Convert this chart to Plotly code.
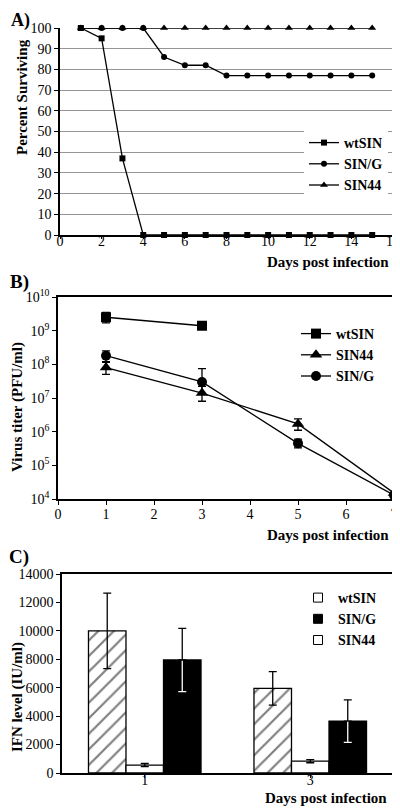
import plotly.graph_objects as go

# The page body adds an 8px margin, so the figure is 8px smaller and all
# layout positions below are given in window pixels and shifted by that margin.
OFF = 8
W, H = 400 - OFF, 808 - OFF
def px(x): return (x - OFF) / W
def py(y): return 1 - (y - OFF) / H

FONT = "Liberation Serif"

# ---------- Panel A data ----------
daysA = list(range(1, 16))
wtSIN_A = [100, 95, 37, 0, 0, 0, 0, 0, 0, 0, 0, 0, 0, 0, 0]
SING_A = [100, 100, 100, 100, 86, 82, 82, 77, 77, 77, 77, 77, 77, 77, 77]
SIN44_A = [100] * 15

# ---------- Panel B data ----------
daysB_wt = [1, 3]
wtSIN_B = [2.5e9, 1.4e9]
wtSIN_B_up = [1.0e9, 0.25e9]
wtSIN_B_dn = [0.8e9, 0.3e9]

daysB = [1, 3, 5, 7]
SIN44_B = [8.0e7, 1.4e7, 1.7e6, 1.5e4]
SIN44_B_up = [3.5e7, 8.0e6, 7.0e5, 0]
SIN44_B_dn = [3.0e7, 6.0e6, 6.0e5, 0]
SING_B = [1.8e8, 3.0e7, 4.5e5, 1.3e4]
SING_B_up = [7.0e7, 4.5e7, 1.5e5, 0]
SING_B_dn = [6.0e7, 1.7e7, 1.2e5, 0]

# ---------- Panel C data ----------
catsC = ["1", "3"]
wtSIN_C = [10000, 5950]
wtSIN_C_err = [2650, 1180]
SIN44_C = [560, 830]
SIN44_C_err = [110, 110]
SING_C = [7950, 3650]
SING_C_err = [2220, 1500]

fig = go.Figure()

# Panel A traces
for name, vals, sym, size in [("wtSIN", wtSIN_A, "square", 6),
                              ("SIN/G", SING_A, "circle", 6),
                              ("SIN44", SIN44_A, "triangle-up", 7)]:
    fig.add_trace(go.Scatter(x=daysA, y=vals, mode="lines+markers", name="<b>%s</b>" % name,
                             line=dict(color="black", width=1.3),
                             marker=dict(symbol=sym, size=size, color="black"),
                             cliponaxis=False, xaxis="x", yaxis="y", legend="legend"))

# Panel B traces
eb = dict(type="data", color="black", thickness=1.3, width=4)
fig.add_trace(go.Scatter(x=daysB_wt, y=wtSIN_B, mode="lines+markers", name="<b>wtSIN</b>",
                         line=dict(color="black", width=1.3),
                         marker=dict(symbol="square", size=10, color="black"),
                         error_y=dict(array=wtSIN_B_up, arrayminus=wtSIN_B_dn, **eb),
                         cliponaxis=False, xaxis="x2", yaxis="y2", legend="legend2"))
fig.add_trace(go.Scatter(x=daysB, y=SIN44_B, mode="lines+markers", name="<b>SIN44</b>",
                         line=dict(color="black", width=1.3),
                         marker=dict(symbol="triangle-up", size=11, color="black"),
                         error_y=dict(array=SIN44_B_up, arrayminus=SIN44_B_dn, **eb),
                         cliponaxis=False, xaxis="x2", yaxis="y2", legend="legend2"))
fig.add_trace(go.Scatter(x=daysB, y=SING_B, mode="lines+markers", name="<b>SIN/G</b>",
                         line=dict(color="black", width=1.3),
                         marker=dict(symbol="circle", size=10, color="black"),
                         error_y=dict(array=SING_B_up, arrayminus=SING_B_dn, **eb),
                         cliponaxis=False, xaxis="x2", yaxis="y2", legend="legend2"))

# Panel C bars
fig.add_trace(go.Bar(x=catsC, y=wtSIN_C, name="wtSIN", showlegend=False, offsetgroup="a",
                     marker=dict(color="white", line=dict(color="black", width=1.3),
                                 pattern=dict(shape="/", size=11, solidity=0.2,
                                              fgcolor="black", bgcolor="white")),
                     error_y=dict(array=wtSIN_C_err, **eb),
                     xaxis="x3", yaxis="y3"))
fig.add_trace(go.Bar(x=catsC, y=SIN44_C, name="SIN44", showlegend=False, offsetgroup="b",
                     marker=dict(color="white", line=dict(color="black", width=1.3)),
                     error_y=dict(array=SIN44_C_err, **eb),
                     xaxis="x3", yaxis="y3"))
fig.add_trace(go.Bar(x=catsC, y=SING_C, name="SIN/G", showlegend=False, offsetgroup="c",
                     marker=dict(color="black", line=dict(color="black", width=1.3)),
                     error_y=dict(type="data", array=SING_C_err, color="white", thickness=1.3, width=4),
                     xaxis="x3", yaxis="y3"))
# black upper half of the SIN/G error bar (outside the black bar)
fig.add_trace(go.Bar(x=catsC, y=SING_C, name="SIN/G", showlegend=False, offsetgroup="c",
                     marker=dict(color="rgba(0,0,0,0)", line=dict(width=0)),
                     error_y=dict(array=SING_C_err, arrayminus=[0, 0], **eb),
                     hoverinfo="skip", xaxis="x3", yaxis="y3"))
# legend entries for C
for name, fill in [("wtSIN", "white"), ("SIN/G", "black"), ("SIN44", "white")]:
    fig.add_trace(go.Scatter(x=[None], y=[None], mode="markers", name="<b>%s</b>" % name,
                             marker=dict(symbol="square", size=9, color=fill,
                                         line=dict(color="black", width=1)),
                             xaxis="x3", yaxis="y3", legend="legend3"))

tickfont = dict(family=FONT, size=14, color="black")
axcommon = dict(showline=True, linecolor="black", linewidth=1.5,
                tickcolor="black", tickwidth=1.2, tickfont=tickfont, zeroline=False,
                ticklabeloverflow="allow")

legfont = dict(family=FONT, size=14, color="black")

fig.update_layout(
    width=W, height=H, margin=dict(l=0, r=0, t=0, b=0, autoexpand=False),
    font=dict(family=FONT, color="black"),
    paper_bgcolor="white", plot_bgcolor="white",
    barmode="group", bargap=0.32, bargroupgap=0,
    xaxis=dict(domain=[px(60), px(393)], range=[0, 16], dtick=2, showgrid=False,
               ticks="outside", ticklen=2, ticklabelstandoff=-10,
               anchor="y", **axcommon),
    yaxis=dict(domain=[py(235), py(28)], range=[0, 100], dtick=10, showgrid=True,
               ticks="outside", ticklen=4,
               gridcolor="#959595", gridwidth=1.2, anchor="x", **axcommon),
    xaxis2=dict(domain=[px(58), px(394)], range=[0, 7], dtick=1, showgrid=False,
                ticks="outside", ticklen=4, ticklabelstandoff=-3,
                anchor="y2", mirror=True, **axcommon),
    yaxis2=dict(domain=[py(499), py(297)], type="log", range=[4, 10], showgrid=False,
                ticks="outside", ticklen=4,
                tickvals=[1e4, 1e5, 1e6, 1e7, 1e8, 1e9, 1e10],
                ticktext=["10<sup>4</sup>", "10<sup>5</sup>", "10<sup>6</sup>", "10<sup>7</sup>",
                          "10<sup>8</sup>", "10<sup>9</sup>", "10<sup>10</sup>"],
                anchor="x2", mirror=True, **axcommon),
    xaxis3=dict(domain=[px(62), px(393)], type="category", showgrid=False,
                ticks="outside", ticklen=3, ticklabelstandoff=-10,
                anchor="y3", mirror=True, **axcommon),
    yaxis3=dict(domain=[py(773), py(574)], range=[0, 14000], dtick=2000, showgrid=False,
                ticks="outside", ticklen=4, tickformat="d",
                anchor="x3", mirror=True, **axcommon),
    legend=dict(x=px(304), y=py(127), xanchor="left", yanchor="top", bgcolor="white",
                font=legfont, itemwidth=30),
    legend2=dict(x=px(296), y=py(318), xanchor="left", yanchor="top", bgcolor="rgba(0,0,0,0)",
                 font=legfont, itemwidth=30),
    legend3=dict(x=px(298), y=py(582), xanchor="left", yanchor="top", bgcolor="rgba(0,0,0,0)",
                 font=legfont, itemwidth=30),
)

ann = []
def text(x, y, s, size=15, angle=0, xanchor="center"):
    ann.append(dict(x=px(x), y=py(y), xref="paper", yref="paper", text=s, showarrow=False,
                    textangle=angle, xanchor=xanchor, yanchor="middle",
                    font=dict(family=FONT, size=size, color="black")))

text(20, 20, "<b>A)</b>", size=18)
text(19, 282, "<b>B)</b>", size=19)
text(19, 557, "<b>C)</b>", size=19)
text(22, 97, "<b>Percent Surviving</b>", angle=-90)
text(17, 407, "<b>Virus titer (PFU/ml)</b>", angle=-90)
text(17, 697, "<b>IFN level (IU/ml)</b>", angle=-90)
text(391, 262, "<b>Days post infection</b>", xanchor="right")
text(391, 535, "<b>Days post infection</b>", xanchor="right")
text(389, 798, "<b>Days post infection</b>", xanchor="right")
fig.update_layout(annotations=ann)

fig.write_html("out.html")
